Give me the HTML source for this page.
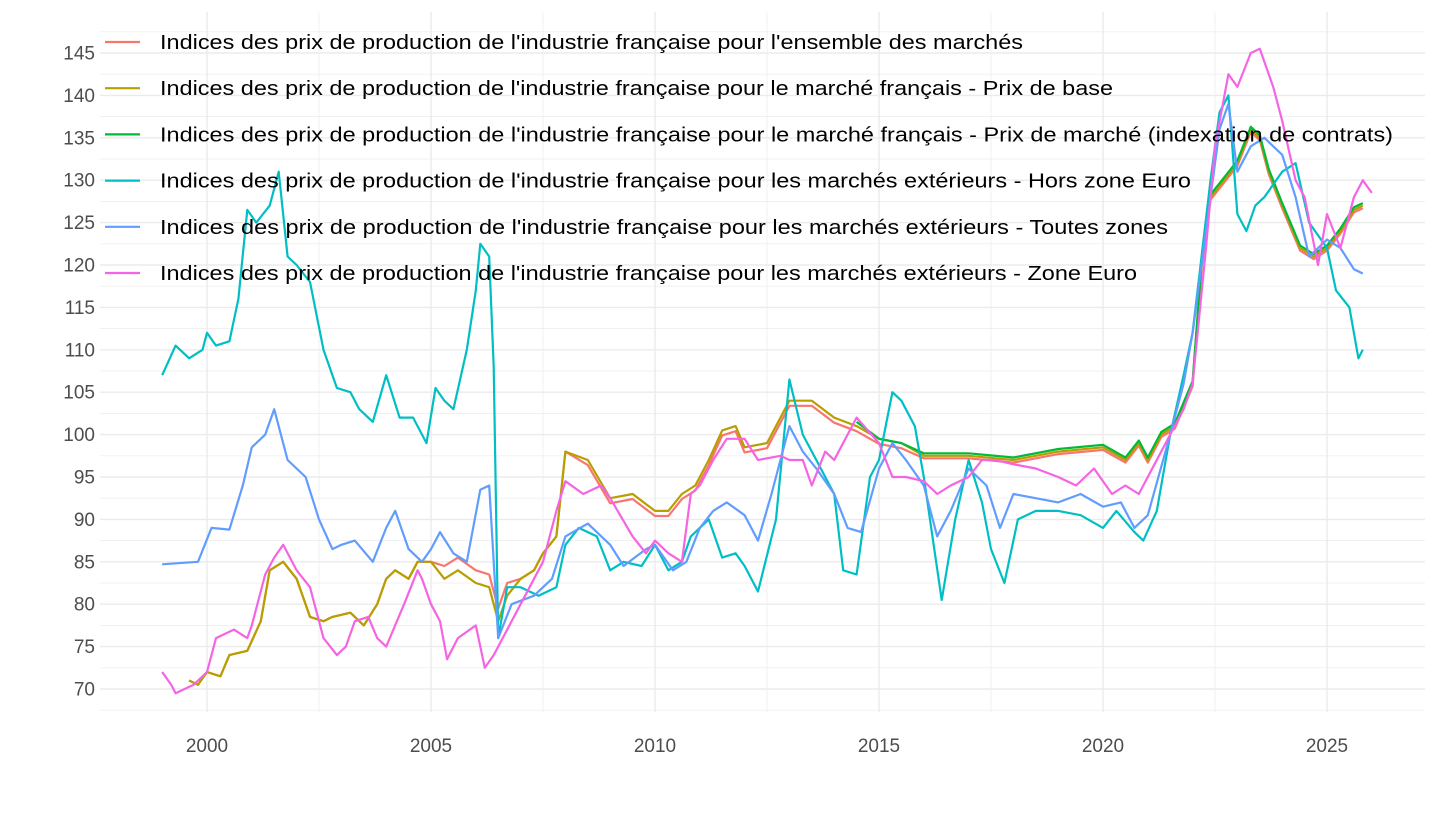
<!DOCTYPE html>
<html><head><meta charset="utf-8"><style>
body{margin:0;background:#fff}
svg text{font-family:"Liberation Sans",sans-serif}
</style></head><body>
<svg id="s" width="1440" height="810" xmlns="http://www.w3.org/2000/svg"></svg>
<script>
const s=document.getElementById('s');
const X=y=>207+(y-2000)*44.8, Y=v=>689-(v-70)*8.48;
let h='';
for(let v=67.5;v<=147.5;v+=2.5){const y=Y(v);h+=`<line x1="100" x2="1425" y1="${y}" y2="${y}" stroke="#ebebeb" stroke-width="${v%5==0?1.4:0.7}"/>`;}
for(let yr=1997.5;yr<=2027.5;yr+=2.5){const x=X(yr);if(x<100||x>1425)continue;h+=`<line y1="12" y2="712" x1="${x}" x2="${x}" stroke="#ebebeb" stroke-width="${yr%5==0?1.4:0.7}"/>`;}
for(let v=70;v<=145;v+=5)h+=`<text x="95" y="${Y(v)+6.5}" text-anchor="end" font-size="19" fill="#4d4d4d">${v}</text>`;
for(let yr=2000;yr<=2025;yr+=5)h+=`<text x="${X(yr)}" y="752" text-anchor="middle" font-size="19" fill="#4d4d4d">${yr}</text>`;
function P(a,c){let d='';for(let i=0;i<a.length;i+=2)d+=(i?'L':'M')+X(a[i]).toFixed(1)+','+Y(a[i+1]).toFixed(1);h+=`<path d="${d}" fill="none" stroke="${c}" stroke-width="2.2" stroke-linejoin="round"/>`;}
const tail=[2016,97.5,2017,97.5,2018,97,2019,98,2020,98.5,2020.5,97,2020.8,99,2021,97,2021.3,100,2021.6,101,2022,106,2022.2,120,2022.4,128,2022.7,130,2023,132,2023.3,136,2023.5,135,2023.7,131,2024,127,2024.4,122,2024.7,121,2025,122,2025.3,124,2025.6,126.5,2025.8,127];
const base=[1999.6,71,1999.8,70.5,2000,72,2000.3,71.5,2000.5,74,2000.9,74.5,2001.2,78,2001.4,84,2001.7,85,2002,83,2002.3,78.5,2002.6,78,2002.8,78.5,2003.2,79,2003.5,77.5,2003.8,80,2004,83,2004.2,84,2004.5,83,2004.7,85,2005,85,2005.3,83,2005.6,84,2006,82.5,2006.3,82,2006.5,78,2006.7,81,2007,83,2007.3,84,2007.5,86,2007.8,88,2008,98,2008.5,97,2009,92.5,2009.5,93,2010,91,2010.3,91,2010.6,93,2010.9,94,2011.2,97,2011.5,100.5,2011.8,101,2012,98.5,2012.5,99,2013,104,2013.5,104,2014,102,2014.5,101,2015,99.5,2015.5,99];
const ens=base.map((v,i)=>i%2&&base[i-1]>2005&&base[i-1]<2007?v+1.5:(i%2&&base[i-1]>2008&&base[i-1]<2016?v-0.6:v));
P(ens.concat(tail.map((v,i)=>i%2?v-0.3:v)),'#F8766D');
P(base.concat(tail),'#B79F00');
P([2014.5,101.5,2015,99.5,2015.5,99].concat(tail.map((v,i)=>i%2?v+0.3:v)),'#00BA38');
P([1999,107,1999.3,110.5,1999.6,109,1999.9,110,2000,112,2000.2,110.5,2000.5,111,2000.7,116,2000.9,126.5,2001.1,125,2001.4,127,2001.6,131,2001.8,121,2002,120,2002.3,118,2002.6,110,2002.9,105.5,2003.2,105,2003.4,103,2003.7,101.5,2004,107,2004.3,102,2004.6,102,2004.9,99,2005.1,105.5,2005.3,104,2005.5,103,2005.8,110,2006,117,2006.1,122.5,2006.3,121,2006.4,108,2006.5,76,2006.7,82,2007,82,2007.4,81,2007.8,82,2008,87,2008.3,89,2008.7,88,2009,84,2009.3,85,2009.7,84.5,2010,87,2010.3,84,2010.6,85,2010.8,88,2011.2,90,2011.5,85.5,2011.8,86,2012,84.5,2012.3,81.5,2012.7,90,2013,106.5,2013.3,100,2013.6,97,2014,93,2014.2,84,2014.5,83.5,2014.8,95,2015,97,2015.3,105,2015.5,104,2015.8,101,2016,95,2016.4,80.5,2016.7,90,2017,97,2017.3,92,2017.5,86.5,2017.8,82.5,2018.1,90,2018.5,91,2019,91,2019.5,90.5,2020,89,2020.3,91,2020.7,88.5,2020.9,87.5,2021.2,91,2021.5,100,2021.8,107,2022,112,2022.4,130,2022.6,138,2022.8,140,2023,126,2023.2,124,2023.4,127,2023.6,128,2024,131,2024.3,132,2024.6,125,2025,122,2025.2,117,2025.5,115,2025.7,109,2025.8,110],'#00BFC4');
P([1999,84.7,1999.8,85,2000.1,89,2000.5,88.8,2000.8,94,2001,98.5,2001.3,100,2001.5,103,2001.8,97,2002.2,95,2002.5,90,2002.8,86.5,2003,87,2003.3,87.5,2003.7,85,2004,89,2004.2,91,2004.5,86.5,2004.8,85,2005,86.5,2005.2,88.5,2005.5,86,2005.8,85,2006.1,93.5,2006.3,94,2006.5,76,2006.8,80,2007.3,81,2007.7,83,2008,88,2008.5,89.5,2009,87,2009.3,84.5,2009.8,86.5,2010,87,2010.4,84,2010.7,85,2011,89,2011.3,91,2011.6,92,2012,90.5,2012.3,87.5,2012.6,93,2013,101,2013.3,98,2013.6,96,2014,93,2014.3,89,2014.6,88.5,2015,96,2015.3,99,2015.6,97,2016,94,2016.3,88,2016.6,91,2017,96,2017.4,94,2017.7,89,2018,93,2018.5,92.5,2019,92,2019.5,93,2020,91.5,2020.4,92,2020.7,89,2021,90.5,2021.5,100,2021.8,106,2022,112,2022.4,128,2022.6,136,2022.8,139,2023,131,2023.3,134,2023.6,135,2024,133,2024.3,128,2024.6,121,2025,123,2025.3,122,2025.6,119.5,2025.8,119],'#619CFF');
P([1999,72,1999.2,70.5,1999.3,69.5,1999.7,70.5,2000,72,2000.2,76,2000.6,77,2000.9,76,2001,77.5,2001.3,83.5,2001.5,85.5,2001.7,87,2002,84,2002.3,82,2002.6,76,2002.9,74,2003.1,75,2003.3,78,2003.6,78.5,2003.8,76,2004,75,2004.4,80,2004.7,84,2004.8,83,2005,80,2005.2,78,2005.36,73.5,2005.6,76,2006,77.5,2006.2,72.5,2006.4,74,2006.7,77,2007,80,2007.5,85,2007.8,91,2008,94.5,2008.4,93,2008.8,94,2009,92.5,2009.5,88,2009.8,86,2010,87.5,2010.3,86,2010.6,85,2010.8,93,2011,94,2011.3,97,2011.6,99.5,2012,99.5,2012.3,97,2012.8,97.5,2013,97,2013.3,97,2013.5,94,2013.8,98,2014,97,2014.5,102,2015,99,2015.3,95,2015.6,95,2016,94.5,2016.3,93,2016.6,94,2017,95,2017.3,97,2017.6,97,2018,96.5,2018.5,96,2019,95,2019.4,94,2019.8,96,2020.2,93,2020.5,94,2020.8,93,2021,95,2021.4,99,2021.8,103,2022,106,2022.3,122,2022.5,134,2022.8,142.5,2023,141,2023.3,145,2023.5,145.5,2023.8,141,2024,137,2024.3,130,2024.5,128,2024.8,120,2025,126,2025.3,122,2025.6,128,2025.8,130,2026,128.5],'#F564E3');
const L=[["#F8766D","Indices des prix de production de l'industrie française pour l'ensemble des marchés",863],["#B79F00","Indices des prix de production de l'industrie française pour le marché français - Prix de base",953],["#00BA38","Indices des prix de production de l'industrie française pour le marché français - Prix de marché (indexation de contrats)",1233],["#00BFC4","Indices des prix de production de l'industrie française pour les marchés extérieurs - Hors zone Euro",1031],["#619CFF","Indices des prix de production de l'industrie française pour les marchés extérieurs - Toutes zones",1008],["#F564E3","Indices des prix de production de l'industrie française pour les marchés extérieurs - Zone Euro",977]];
L.forEach((l,i)=>{const y=42+i*46.2;h+=`<line x1="105" x2="140" y1="${y}" y2="${y}" stroke="${l[0]}" stroke-width="2.2"/><text x="160" y="${y+7}" font-size="20" fill="#000" textLength="${l[2]}" lengthAdjust="spacingAndGlyphs">${l[1]}</text>`;});
s.innerHTML=h;
</script>
</body></html>
